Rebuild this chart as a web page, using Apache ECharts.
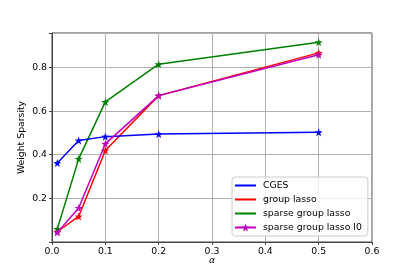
<!DOCTYPE html>
<html><head><meta charset="utf-8">
<script src="https://cdn.jsdelivr.net/npm/echarts@6/dist/echarts.min.js"></script>
<style>html,body{margin:0;padding:0;background:#fff}#c{width:415px;height:277px}</style>
</head><body><div id="c"></div>
<script>
const alphas = [0.01, 0.05, 0.1, 0.2, 0.5];
const cges = [0.362, 0.465, 0.483, 0.495, 0.503];
const groupLasso = [0.047, 0.117, 0.419, 0.671, 0.867];
const sparseGroupLasso = [0.060, 0.381, 0.642, 0.815, 0.916];
const sparseGroupLassoL0 = [0.044, 0.156, 0.450, 0.671, 0.858];
const seriesNames = ['CGES', 'group lasso', 'sparse group lasso', 'sparse group lasso l0'];
const colors = ['#0000ff', '#ff0000', '#008000', '#bf00bf'];
const xTicks = [0, 0.1, 0.2, 0.3, 0.4, 0.5, 0.6];
const yTicks = [0.2, 0.4, 0.6, 0.8];

const star = 'path://M0,-10 L2.35,-3.24 L9.51,-3.09 L3.8,1.24 L5.88,8.09 L0,4 L-5.88,8.09 L-3.8,1.24 L-9.51,-3.09 L-2.35,-3.24 Z';
const font = 'DejaVu Sans';
const allData = [cges, groupLasso, sparseGroupLasso, sparseGroupLassoL0];

const chart = echarts.init(document.getElementById('c'), null, {renderer: 'canvas'});
chart.setOption({
  animation: false,
  backgroundColor: '#fff',
  grid: {left: 52, right: 43, top: 33, bottom: 35, show: true, borderColor: '#444', borderWidth: 1, backgroundColor: 'transparent'},
  xAxis: {
    type: 'value', min: 0, max: 0.6, interval: 0.1,
    name: 'α', nameLocation: 'middle', nameGap: 14, nameMoveOverlap: false,
    nameTextStyle: {fontFamily: font, fontSize: 9.3, fontStyle: 'italic', color: '#000'},
    axisLine: {show: true, onZero: false, lineStyle: {color: '#444', width: 1}},
    axisTick: {show: true, inside: false, length: 3, lineStyle: {color: '#444'}},
    axisLabel: {fontFamily: font, fontSize: 9.3, color: '#000', margin: 5,
      formatter: v => xTicks.some(t => Math.abs(t - v) < 1e-6) ? v.toFixed(1) : ''},
    splitLine: {show: true, lineStyle: {color: '#b0b0b0', width: 1}}
  },
  yAxis: {
    type: 'value', min: 0, max: 0.958, interval: 0.2,
    name: 'Weight Sparsity', nameLocation: 'middle', nameGap: 26, nameMoveOverlap: false,
    nameTextStyle: {fontFamily: font, fontSize: 9.3, color: '#000'},
    axisLine: {show: true, onZero: false, lineStyle: {color: '#444', width: 1}},
    axisTick: {show: true, inside: false, length: 3, lineStyle: {color: '#444'}},
    axisLabel: {fontFamily: font, fontSize: 9.3, color: '#000', margin: 5,
      formatter: v => yTicks.some(t => Math.abs(t - v) < 1e-6) ? v.toFixed(1) : ''},
    splitLine: {show: true, lineStyle: {color: '#b0b0b0', width: 1}}
  },
  legend: {
    orient: 'vertical', left: 232, top: 177,
    padding: [4, 6, 4, 2], itemGap: 5, itemWidth: 21, itemHeight: 10,
    backgroundColor: 'rgba(255,255,255,0.8)', borderColor: '#cccccc', borderWidth: 1, borderRadius: 3,
    textStyle: {fontFamily: font, fontSize: 9.3, color: '#000', padding: [0, 0, 0, 2]},
    data: seriesNames.map((n, i) => i < 3 ? {name: n, itemStyle: {opacity: 0}} : {name: n})
  },
  series: seriesNames.map((n, i) => ({
    name: n, type: 'line',
    data: alphas.map((a, j) => [a, allData[i][j]]),
    symbol: star, symbolSize: 8,
    itemStyle: {color: colors[i]},
    lineStyle: {color: colors[i], width: 1.5},
    z: i === 0 ? 5 : 2 + i
  }))
});
</script></body></html>
